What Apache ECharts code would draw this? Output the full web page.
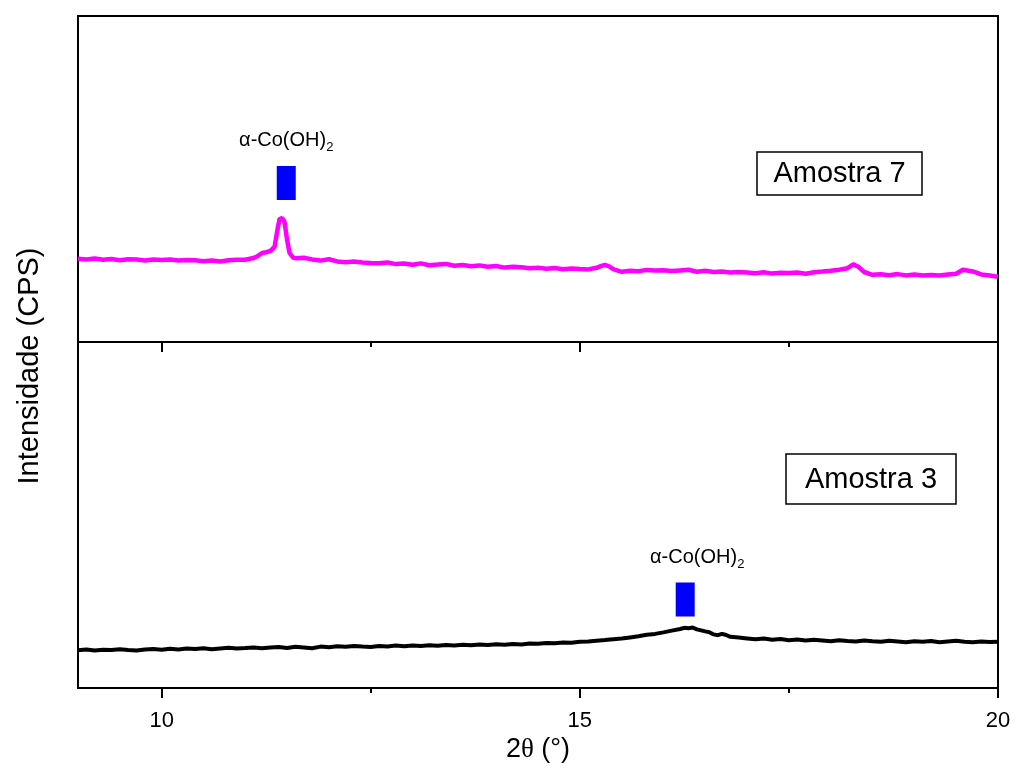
<!DOCTYPE html>
<html>
<head>
<meta charset="utf-8">
<script src="https://cdn.jsdelivr.net/npm/echarts@6/dist/echarts.min.js"></script>
<style>html,body{margin:0;padding:0;background:#fff}#c{width:1016px;height:782px}</style>
</head>
<body>
<div id="c"></div>
<script>
// 2θ (°) vs intensity (arbitrary CPS units)
const amostra7 = [
[9.0,832],[9.1,826],[9.2,835],[9.3,822],[9.4,829],[9.5,818],[9.6,827],[9.7,824],[9.8,816],[9.9,825],
[10.0,819],[10.1,826],[10.2,814],[10.3,821],[10.4,817],[10.5,808],[10.6,815],[10.7,806],[10.8,818],[10.9,823],
[11.0,822],[11.1,840],[11.15,860],[11.2,890],[11.25,898],[11.3,910],[11.35,950],[11.38,1100],[11.41,1230],[11.44,1240],
[11.47,1200],[11.5,1020],[11.53,890],[11.57,845],[11.6,838],[11.7,842],[11.8,826],[11.9,814],
[12.0,828],[12.1,806],[12.2,798],[12.3,804],[12.4,795],[12.5,790],[12.6,788],[12.7,796],[12.8,779],[12.9,784],
[13.0,772],[13.1,786],[13.2,768],[13.3,774],[13.4,781],[13.5,762],[13.6,770],[13.7,758],[13.8,766],[13.9,752],
[14.0,760],[14.1,744],[14.2,752],[14.3,748],[14.4,737],[14.5,742],[14.6,733],[14.7,740],[14.8,728],[14.9,735],
[15.0,730],[15.1,726],[15.2,742],[15.25,758],[15.3,771],[15.35,756],[15.4,728],[15.5,702],[15.6,712],[15.7,708],
[15.8,721],[15.9,714],[16.0,718],[16.1,709],[16.2,716],[16.3,722],[16.4,703],[16.5,712],[16.6,700],[16.7,706],
[16.8,694],[16.9,701],[17.0,696],[17.1,688],[17.2,697],[17.3,684],[17.4,692],[17.5,689],[17.6,695],[17.7,683],
[17.8,698],[17.9,704],[18.0,712],[18.1,722],[18.2,738],[18.27,776],[18.33,752],[18.4,700],[18.5,672],[18.6,678],
[18.7,668],[18.8,679],[18.9,666],[19.0,674],[19.1,664],[19.2,671],[19.3,666],[19.4,676],[19.5,682],[19.58,722],
[19.65,712],[19.7,706],[19.8,676],[19.9,664],[20.0,652]
];
const amostra3 = [
[9.0,378],[9.1,386],[9.2,374],[9.3,382],[9.4,379],[9.5,388],[9.6,381],[9.7,376],[9.8,385],[9.9,389],
[10.0,383],[10.1,392],[10.2,386],[10.3,394],[10.4,390],[10.5,398],[10.6,388],[10.7,396],[10.8,402],[10.9,394],
[11.0,399],[11.1,406],[11.2,397],[11.3,404],[11.4,410],[11.5,401],[11.6,412],[11.7,405],[11.8,398],[11.9,414],
[12.0,408],[12.1,418],[12.2,412],[12.3,420],[12.4,414],[12.5,409],[12.6,421],[12.7,416],[12.8,424],[12.9,418],
[13.0,426],[13.1,419],[13.2,428],[13.3,422],[13.4,430],[13.5,425],[13.6,433],[13.7,427],[13.8,435],[13.9,430],
[14.0,438],[14.1,432],[14.2,441],[14.3,436],[14.4,446],[14.5,442],[14.6,451],[14.7,447],[14.8,456],[14.9,453],
[15.0,462],[15.1,466],[15.2,473],[15.3,479],[15.4,488],[15.5,494],[15.6,506],[15.7,518],[15.8,532],[15.9,541],
[16.0,556],[16.1,574],[16.2,590],[16.25,602],[16.3,598],[16.35,604],[16.4,586],[16.5,566],[16.55,558],[16.6,536],
[16.65,528],[16.7,542],[16.75,530],[16.8,512],[16.9,504],[17.0,496],[17.1,488],[17.2,494],[17.3,482],[17.4,490],
[17.5,478],[17.6,486],[17.7,474],[17.8,482],[17.9,476],[18.0,468],[18.1,478],[18.2,470],[18.3,466],[18.4,476],
[18.5,468],[18.6,462],[18.7,472],[18.8,465],[18.9,458],[19.0,468],[19.1,462],[19.2,470],[19.3,458],[19.4,466],
[19.5,472],[19.6,462],[19.7,458],[19.8,466],[19.9,460],[20.0,463]
];
// phase markers: [2θ, intensity]
const marker7 = [[11.49, 1590]];
const marker3 = [[16.26, 885]];
const majorTicks = [10, 15, 20];
const minorTicks = [12.5, 17.5];
const sampleLabels = ['Amostra 7', 'Amostra 3'];
const phaseLabel = 'α-Co(OH)';

const chart = echarts.init(document.getElementById('c'), null, {renderer: 'canvas'});
const FONT = 'Liberation Sans, Arial, sans-serif';
const baseX = {min: 9, max: 20, type: 'value', splitLine: {show: false}};
function hiddenX(grid){
  return Object.assign({}, baseX, {gridIndex: grid, axisLine: {show: false}, axisTick: {show: false}, axisLabel: {show: false}});
}
const markerLabel = {
  show: true, position: 'top', distance: 12, color: '#000', opacity: 1,
  formatter: '{a|' + phaseLabel + '}{s|2}',
  rich: {
    a: {fontSize: 20, fontFamily: FONT, color: '#000'},
    s: {fontSize: 13, fontFamily: FONT, color: '#000', padding: [14, 0, 0, 0]}
  }
};
const markerStyle = {color: '#0000ff', opacity: 1};
const option = {
  animation: false,
  backgroundColor: '#fff',
  grid: [
    {left: 78, right: 18, top: 16, height: 326, show: true, borderColor: '#000', borderWidth: 2, backgroundColor: 'transparent'},
    {left: 78, right: 18, top: 342, bottom: 94, show: true, borderColor: '#000', borderWidth: 2, backgroundColor: 'transparent'}
  ],
  xAxis: [
    hiddenX(0),
    Object.assign({}, baseX, {
      gridIndex: 1, position: 'bottom',
      axisLine: {show: true, lineStyle: {color: '#000', width: 2}},
      axisTick: {show: true, customValues: majorTicks, length: 10, inside: false, lineStyle: {color: '#000', width: 2}},
      axisLabel: {show: true, customValues: majorTicks, fontSize: 22, fontFamily: FONT, color: '#000', margin: 22},
      name: '{n|2}{t|θ}{n| (°)}', nameLocation: 'middle', nameGap: 48,
      nameTextStyle: {rich: {n: {fontSize: 27, fontFamily: FONT, color: '#000'}, t: {fontSize: 27, fontFamily: 'Liberation Serif, serif', color: '#000'}}}
    }),
    Object.assign({}, baseX, {
      gridIndex: 1, position: 'bottom',
      axisLine: {show: false},
      axisTick: {show: true, customValues: minorTicks, length: 5, inside: false, lineStyle: {color: '#000', width: 2}},
      axisLabel: {show: false}
    }),
    Object.assign({}, baseX, {
      gridIndex: 1, position: 'top',
      axisLine: {show: false},
      axisTick: {show: true, customValues: majorTicks, length: 10, inside: true, lineStyle: {color: '#000', width: 2}},
      axisLabel: {show: false}
    }),
    Object.assign({}, baseX, {
      gridIndex: 1, position: 'top',
      axisLine: {show: false},
      axisTick: {show: true, customValues: minorTicks, length: 5, inside: true, lineStyle: {color: '#000', width: 2}},
      axisLabel: {show: false}
    })
  ],
  yAxis: [
    {gridIndex: 0, type: 'value', min: 0, max: 3260, show: false},
    {gridIndex: 1, type: 'value', min: 0, max: 3460, show: false}
  ],
  series: [
    {type: 'line', xAxisIndex: 0, yAxisIndex: 0, data: amostra7, showSymbol: false, symbol: 'none',
     lineStyle: {color: '#ff00ff', width: 4.5}, z: 3},
    {type: 'line', xAxisIndex: 1, yAxisIndex: 1, data: amostra3, showSymbol: false, symbol: 'none',
     lineStyle: {color: '#000', width: 4}, z: 3},
    {type: 'scatter', xAxisIndex: 0, yAxisIndex: 0, data: marker7, symbol: 'rect', symbolSize: [19, 34],
     itemStyle: markerStyle, label: markerLabel, z: 4},
    {type: 'scatter', xAxisIndex: 1, yAxisIndex: 1, data: marker3, symbol: 'rect', symbolSize: [19, 34],
     itemStyle: markerStyle, label: Object.assign({}, markerLabel, {offset: [12, 0]}), z: 4}
  ],
  graphic: [
    {type: 'text', x: 30, y: 366, rotation: Math.PI / 2,
     style: {text: 'Intensidade (CPS)', fontSize: 29, fontFamily: FONT, fill: '#000', align: 'center', verticalAlign: 'middle'}},
    {type: 'rect', shape: {x: 757, y: 152, width: 165, height: 43}, style: {fill: '#fff', stroke: '#000', lineWidth: 1.5}},
    {type: 'text', x: 839.5, y: 174, style: {text: sampleLabels[0], fontSize: 29, fontFamily: FONT, fill: '#000', align: 'center', verticalAlign: 'middle'}},
    {type: 'rect', shape: {x: 786, y: 454, width: 170, height: 50}, style: {fill: '#fff', stroke: '#000', lineWidth: 1.5}},
    {type: 'text', x: 871, y: 480, style: {text: sampleLabels[1], fontSize: 29, fontFamily: FONT, fill: '#000', align: 'center', verticalAlign: 'middle'}}
  ]
};
chart.setOption(option);
</script>
</body>
</html>
